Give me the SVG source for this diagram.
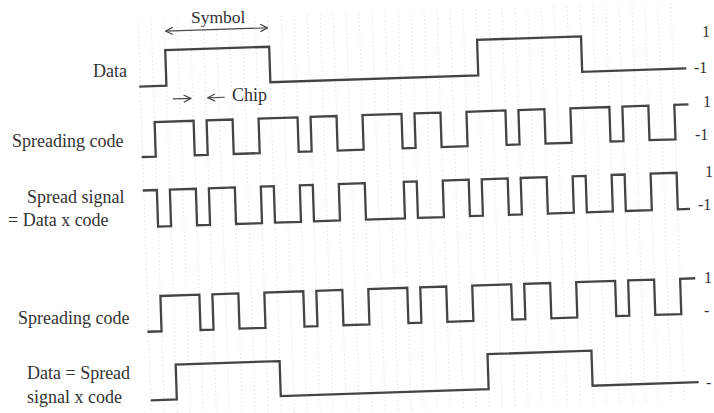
<svg xmlns="http://www.w3.org/2000/svg" width="714" height="413" viewBox="0 0 714 413">
  <defs>
    <style>
      .wave { fill: none; stroke: #444444; stroke-width: 2.3; stroke-linejoin: miter; stroke-linecap: square; }
      .grid { stroke: #e0e0e0; stroke-width: 0.9; stroke-dasharray: 1.5 2.5; }
      .lbl { font-family: "Liberation Serif", "Times New Roman", serif; font-size: 18px; fill: #333; }
      .val { font-family: "Liberation Serif", "Times New Roman", serif; font-size: 16px; fill: #333; }
      .arr { fill: none; stroke: #4a4a4a; stroke-width: 1.2; }
    </style>
    <marker id="head" viewBox="0 0 10 10" refX="9" refY="5" markerWidth="9" markerHeight="9" markerUnits="userSpaceOnUse" orient="auto-start-reverse">
      <path d="M1,1 L9,5 L1,9" fill="none" stroke="#4a4a4a" stroke-width="1.4"/>
    </marker>
  </defs>
  <rect width="714" height="413" fill="#ffffff"/>

  <g transform="rotate(-1.9 400 220)">
    <g id="grid">
      <line class="grid" x1="145" y1="12" x2="145" y2="412"/>
      <line class="grid" x1="158" y1="12" x2="158" y2="412"/>
      <line class="grid" x1="171" y1="12" x2="171" y2="412"/>
      <line class="grid" x1="184" y1="12" x2="184" y2="412"/>
      <line class="grid" x1="197" y1="12" x2="197" y2="412"/>
      <line class="grid" x1="210" y1="12" x2="210" y2="412"/>
      <line class="grid" x1="223" y1="12" x2="223" y2="412"/>
      <line class="grid" x1="236" y1="12" x2="236" y2="412"/>
      <line class="grid" x1="249" y1="12" x2="249" y2="412"/>
      <line class="grid" x1="262" y1="12" x2="262" y2="412"/>
      <line class="grid" x1="275" y1="12" x2="275" y2="412"/>
      <line class="grid" x1="288" y1="12" x2="288" y2="412"/>
      <line class="grid" x1="301" y1="12" x2="301" y2="412"/>
      <line class="grid" x1="314" y1="12" x2="314" y2="412"/>
      <line class="grid" x1="327" y1="12" x2="327" y2="412"/>
      <line class="grid" x1="340" y1="12" x2="340" y2="412"/>
      <line class="grid" x1="353" y1="12" x2="353" y2="412"/>
      <line class="grid" x1="366" y1="12" x2="366" y2="412"/>
      <line class="grid" x1="379" y1="12" x2="379" y2="412"/>
      <line class="grid" x1="392" y1="12" x2="392" y2="412"/>
      <line class="grid" x1="405" y1="12" x2="405" y2="412"/>
      <line class="grid" x1="418" y1="12" x2="418" y2="412"/>
      <line class="grid" x1="431" y1="12" x2="431" y2="412"/>
      <line class="grid" x1="444" y1="12" x2="444" y2="412"/>
      <line class="grid" x1="457" y1="12" x2="457" y2="412"/>
      <line class="grid" x1="470" y1="12" x2="470" y2="412"/>
      <line class="grid" x1="483" y1="12" x2="483" y2="412"/>
      <line class="grid" x1="496" y1="12" x2="496" y2="412"/>
      <line class="grid" x1="509" y1="12" x2="509" y2="412"/>
      <line class="grid" x1="522" y1="12" x2="522" y2="412"/>
      <line class="grid" x1="535" y1="12" x2="535" y2="412"/>
      <line class="grid" x1="548" y1="12" x2="548" y2="412"/>
      <line class="grid" x1="561" y1="12" x2="561" y2="412"/>
      <line class="grid" x1="574" y1="12" x2="574" y2="412"/>
      <line class="grid" x1="587" y1="12" x2="587" y2="412"/>
      <line class="grid" x1="600" y1="12" x2="600" y2="412"/>
      <line class="grid" x1="613" y1="12" x2="613" y2="412"/>
      <line class="grid" x1="626" y1="12" x2="626" y2="412"/>
      <line class="grid" x1="639" y1="12" x2="639" y2="412"/>
      <line class="grid" x1="652" y1="12" x2="652" y2="412"/>
      <line class="grid" x1="665" y1="12" x2="665" y2="412"/>
      <line class="grid" x1="678" y1="12" x2="678" y2="412"/>
    </g>

    <g id="data">
      <path class="wave" d="M145,78 H171 V42.5 H275 V78 H483 V42.5 H587 V78 H690"/>
    </g>

    <g id="spreading-code">
      <path class="wave" d="M145,148.5 H158 V114 H197 V148.5 H210 V114 H236 V148.5 H262 V114 H301 V148.5 H314 V114 H340 V148.5 H366 V114 H405 V148.5 H418 V114 H444 V148.5 H470 V114 H509 V148.5 H522 V114 H548 V148.5 H574 V114 H613 V148.5 H626 V114 H652 V148.5 H678 V114 H691"/>
    </g>

    <g id="spread-signal">
      <path class="wave" d="M145,182 H158 V218.5 H171 V182 H197 V218.5 H210 V182 H236 V218.5 H262 V182 H275 V218.5 H301 V182 H314 V218.5 H340 V182 H366 V218.5 H405 V182 H418 V218.5 H444 V182 H470 V218.5 H483 V182 H509 V218.5 H522 V182 H548 V218.5 H574 V182 H587 V218.5 H613 V182 H626 V218.5 H652 V182 H678 V218.5 H689"/>
    </g>

    <g id="spreading-code-rx">
      <path class="wave" d="M145,323.3 H158 V288 H197 V323.3 H210 V288 H236 V323.3 H262 V288 H301 V323.3 H314 V288 H340 V323.3 H366 V288 H405 V323.3 H418 V288 H444 V323.3 H470 V288 H509 V323.3 H522 V288 H548 V323.3 H574 V288 H613 V323.3 H626 V288 H652 V323.3 H678 V288 H692"/>
    </g>

    <g id="data-recovered">
      <path class="wave" d="M146,392 H171 V357 H275 V392 H483 V357 H587 V392 H692"/>
    </g>

    <g id="connectors">
      <line class="arr" x1="172" y1="23.5" x2="274" y2="23.5" marker-start="url(#head)" marker-end="url(#head)"/>
      <line class="arr" x1="177" y1="91.5" x2="195" y2="91.5" marker-end="url(#head)"/>
      <line class="arr" x1="229" y1="91.5" x2="212" y2="91.5" marker-end="url(#head)"/>
    </g>
  </g>

  <g id="annotations">
    <text class="lbl" x="191" y="23" style="font-size:17.5px">Symbol</text>
    <text class="lbl" x="232" y="101">Chip</text>
  </g>

  <g id="labels">
    <text class="lbl" x="93" y="77">Data</text>
    <text class="lbl" x="12" y="147">Spreading code</text>
    <text class="lbl" x="27" y="203">Spread signal</text>
    <text class="lbl" x="8" y="226">= Data x code</text>
    <text class="lbl" x="18" y="324">Spreading code</text>
    <text class="lbl" x="27" y="379">Data = Spread</text>
    <text class="lbl" x="27" y="403">signal x code</text>
  </g>

  <g id="levels">
    <text class="val" x="702" y="37">1</text>
    <text class="val" x="694" y="73">-1</text>
    <text class="val" x="703" y="107">1</text>
    <text class="val" x="695" y="140">-1</text>
    <text class="val" x="705" y="177">1</text>
    <text class="val" x="698" y="210">-1</text>
    <text class="val" x="704" y="283">1</text>
    <text class="val" x="704" y="316">-</text>
    <text class="val" x="706" y="388">-</text>
  </g>
</svg>
